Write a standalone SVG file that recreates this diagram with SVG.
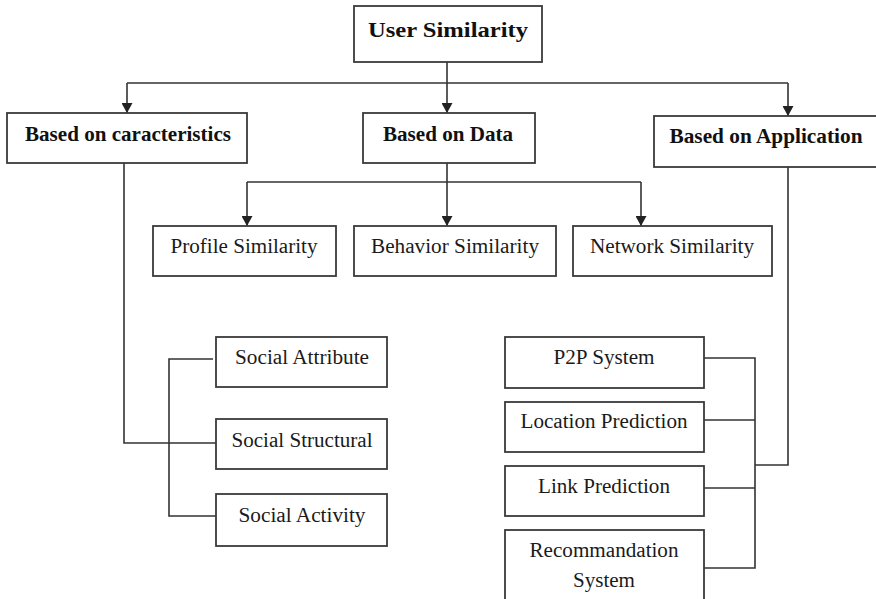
<svg xmlns="http://www.w3.org/2000/svg" width="876" height="599" viewBox="0 0 876 599">
  <defs>
    <marker id="arrow" markerUnits="userSpaceOnUse" markerWidth="10" markerHeight="11" viewBox="0 0 10 11" refX="10" refY="5.5" orient="auto">
      <path d="M0,0 L10,5.5 L0,11 z" fill="#222"/>
    </marker>
    <style>
      .box { fill: #fff; stroke: #3a3a3a; stroke-width: 1.8; }
      .line { fill: none; stroke: #333; stroke-width: 1.6; }
      .bold { font-family: "Liberation Serif", "Times New Roman", serif; font-weight: bold; font-size: 21px; fill: #111; text-anchor: middle; }
      .label { font-family: "Liberation Serif", "Times New Roman", serif; font-size: 20px; fill: #1a1a1a; text-anchor: middle; }
    </style>
  </defs>
  <rect width="876" height="599" fill="#fff"/>

  <g id="connectors">
    <path class="line" d="M447,62 V113" marker-end="url(#arrow)"/>
    <path class="line" d="M127,83 H788"/>
    <path class="line" d="M127,83 V113" marker-end="url(#arrow)"/>
    <path class="line" d="M788,83 V116" marker-end="url(#arrow)"/>

    <path class="line" d="M447,163 V226" marker-end="url(#arrow)"/>
    <path class="line" d="M247,182 H641"/>
    <path class="line" d="M247,182 V226" marker-end="url(#arrow)"/>
    <path class="line" d="M641,182 V226" marker-end="url(#arrow)"/>

    <path class="line" d="M124,163 V443 H216"/>
    <path class="line" d="M213,359 H169 V516 H216"/>

    <path class="line" d="M788,167 V465 H755"/>
    <path class="line" d="M704,358 H755 V568 H704"/>
    <path class="line" d="M704,420 H755"/>
    <path class="line" d="M704,488 H755"/>
  </g>

  <g id="user-similarity">
    <rect class="box" x="354" y="6" width="188" height="56"/>
    <text class="bold" x="448" y="37" font-size="23" textLength="160" lengthAdjust="spacingAndGlyphs">User Similarity</text>
  </g>

  <g id="based-on-caracteristics">
    <rect class="box" x="7" y="113" width="240" height="50"/>
    <text class="bold" x="128" y="141" textLength="206" lengthAdjust="spacingAndGlyphs">Based on caracteristics</text>
  </g>

  <g id="based-on-data">
    <rect class="box" x="363" y="113" width="172" height="50"/>
    <text class="bold" x="448" y="141" textLength="130" lengthAdjust="spacingAndGlyphs">Based on Data</text>
  </g>

  <g id="based-on-application">
    <rect class="box" x="654" y="116" width="230" height="51"/>
    <text class="bold" x="766" y="143" textLength="193" lengthAdjust="spacingAndGlyphs">Based on Application</text>
  </g>

  <g id="profile-similarity">
    <rect class="box" x="153" y="226" width="183" height="50"/>
    <text class="label" x="244" y="253" textLength="147" lengthAdjust="spacingAndGlyphs">Profile Similarity</text>
  </g>

  <g id="behavior-similarity">
    <rect class="box" x="354" y="226" width="202" height="50"/>
    <text class="label" x="455" y="253" textLength="168" lengthAdjust="spacingAndGlyphs">Behavior Similarity</text>
  </g>

  <g id="network-similarity">
    <rect class="box" x="573" y="226" width="199" height="50"/>
    <text class="label" x="672" y="253" textLength="164" lengthAdjust="spacingAndGlyphs">Network Similarity</text>
  </g>

  <g id="social-attribute">
    <rect class="box" x="216" y="337" width="171" height="50"/>
    <text class="label" x="302" y="364" textLength="134" lengthAdjust="spacingAndGlyphs">Social Attribute</text>
  </g>

  <g id="social-structural">
    <rect class="box" x="216" y="419" width="171" height="50"/>
    <text class="label" x="302" y="447" textLength="141" lengthAdjust="spacingAndGlyphs">Social Structural</text>
  </g>

  <g id="social-activity">
    <rect class="box" x="216" y="494" width="171" height="52"/>
    <text class="label" x="302" y="522" textLength="127" lengthAdjust="spacingAndGlyphs">Social Activity</text>
  </g>

  <g id="p2p-system">
    <rect class="box" x="505" y="337" width="199" height="51"/>
    <text class="label" x="604" y="364" textLength="101" lengthAdjust="spacingAndGlyphs">P2P System</text>
  </g>

  <g id="location-prediction">
    <rect class="box" x="505" y="402" width="199" height="50"/>
    <text class="label" x="604" y="428" textLength="167" lengthAdjust="spacingAndGlyphs">Location Prediction</text>
  </g>

  <g id="link-prediction">
    <rect class="box" x="505" y="466" width="199" height="50"/>
    <text class="label" x="604" y="493" textLength="132" lengthAdjust="spacingAndGlyphs">Link Prediction</text>
  </g>

  <g id="recommandation-system">
    <rect class="box" x="505" y="530" width="199" height="80"/>
    <text class="label" x="604" y="557" textLength="149" lengthAdjust="spacingAndGlyphs">Recommandation</text>
    <text class="label" x="604" y="587" textLength="62" lengthAdjust="spacingAndGlyphs">System</text>
  </g>
</svg>
